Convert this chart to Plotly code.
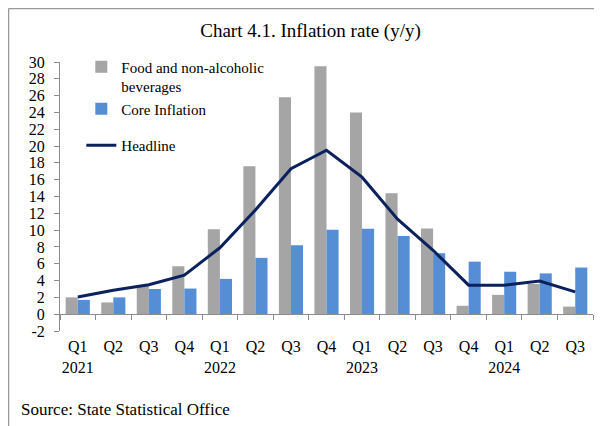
import plotly.graph_objects as go

quarters = ["Q1", "Q2", "Q3", "Q4", "Q1", "Q2", "Q3", "Q4", "Q1", "Q2", "Q3", "Q4", "Q1", "Q2", "Q3"]
years = ["2021", "", "", "", "2022", "", "", "", "2023", "", "", "", "2024", "", ""]
food = [2.0, 1.4, 3.4, 5.7, 10.1, 17.6, 25.8, 29.5, 24.0, 14.4, 10.2, 1.0, 2.3, 3.6, 0.9]
core = [1.7, 2.0, 3.0, 3.05, 4.2, 6.7, 8.2, 10.05, 10.15, 9.3, 7.25, 6.25, 5.05, 4.85, 5.55]
headline = [2.05, 2.85, 3.5, 4.65, 7.9, 12.4, 17.3, 19.5, 16.3, 11.3, 7.6, 3.45, 3.45, 3.95, 2.65]
y_ticks = list(range(-2, 31, 2))
y_ticktext = [str(v) for v in y_ticks]

xpos = list(range(len(quarters)))
ticktext = [q + "<br>" + y if y else q for q, y in zip(quarters, years)]

FONT = "Liberation Serif"
AX = "#8c8c8c"

# figure is placed by the page at (8, 8); size it so it fills the 602x426 window
W, H = 594, 418
L, T, R, B = 52, 54, 9, 95
PW, PH = W - L - R, H - T - B


def px_x(fx):
    return (fx - L) / PW


def px_y(fy):
    return (H - B - fy) / PH


fig = go.Figure()
fig.add_trace(go.Bar(x=xpos, y=food, name="Food and non-alcoholic<br>beverages",
                     marker=dict(color="#a5a5a5", line=dict(width=0)), legendgroup="a"))
fig.add_trace(go.Bar(x=xpos, y=core, name="Core Inflation",
                     marker=dict(color="#558ed5", line=dict(width=0)), legendgroup="a"))
fig.add_trace(go.Scatter(x=xpos, y=headline, name="Headline", mode="lines",
                         line=dict(color="#0a215e", width=3), legendgroup="b",
                         xaxis="x2"))

fig.update_layout(
    width=W, height=H,
    margin=dict(l=L, t=T, r=R, b=B),
    paper_bgcolor="white", plot_bgcolor="white",
    font=dict(family=FONT, size=16, color="black"),
    barmode="group", bargap=0.32, bargroupgap=0,
    showlegend=True,
    title=dict(text="Chart 4.1. Inflation rate (y/y)", font=dict(family=FONT, size=19, color="black"),
               x=0.47, xref="paper", xanchor="center", y=1 - 22 / H, yanchor="middle"),
    legend=dict(x=0.04, y=1.0425, xanchor="left", yanchor="top", bgcolor="rgba(0,0,0,0)",
                font=dict(family=FONT, size=15), valign="top", tracegroupgap=14,
                itemclick=False),
    xaxis=dict(range=[-0.5, 14.5], tickvals=xpos, ticktext=ticktext, showline=False,
               showgrid=False, zeroline=False, ticks="", tickfont=dict(size=16),
               ticklabelstandoff=4),
    xaxis2=dict(range=[-0.5, 14.5], overlaying="x", anchor="free", position=2 / 32, side="bottom",
                tickvals=[i - 0.5 for i in range(len(quarters) + 1)], showticklabels=False,
                showline=True, linecolor=AX, linewidth=1, ticks="outside", ticklen=5,
                tickcolor=AX, tickwidth=1, showgrid=False, zeroline=False),
    yaxis=dict(range=[-2, 30], tickvals=y_ticks, ticktext=y_ticktext, showline=True,
               linecolor=AX, linewidth=1, ticks="outside", ticklen=5, tickcolor=AX, tickwidth=1,
               showgrid=False, zeroline=False, tickfont=dict(size=16), ticklabelstandoff=6),
    shapes=[
        dict(type="line", xref="paper", yref="paper", x0=px_x(0.5), x1=px_x(W + 20),
             y0=px_y(0.5), y1=px_y(0.5), line=dict(color="#999999", width=1.5)),
        dict(type="line", xref="paper", yref="paper", x0=px_x(0.5), x1=px_x(0.5),
             y0=px_y(0.5), y1=px_y(H + 20), line=dict(color="#999999", width=1.5)),
    ],
    annotations=[
        dict(text="Source: State Statistical Office", xref="paper", yref="paper",
             x=px_x(11), y=px_y(401), xanchor="left", yanchor="middle",
             showarrow=False, font=dict(family=FONT, size=17, color="black")),
    ],
)

fig.write_html("out.html")
